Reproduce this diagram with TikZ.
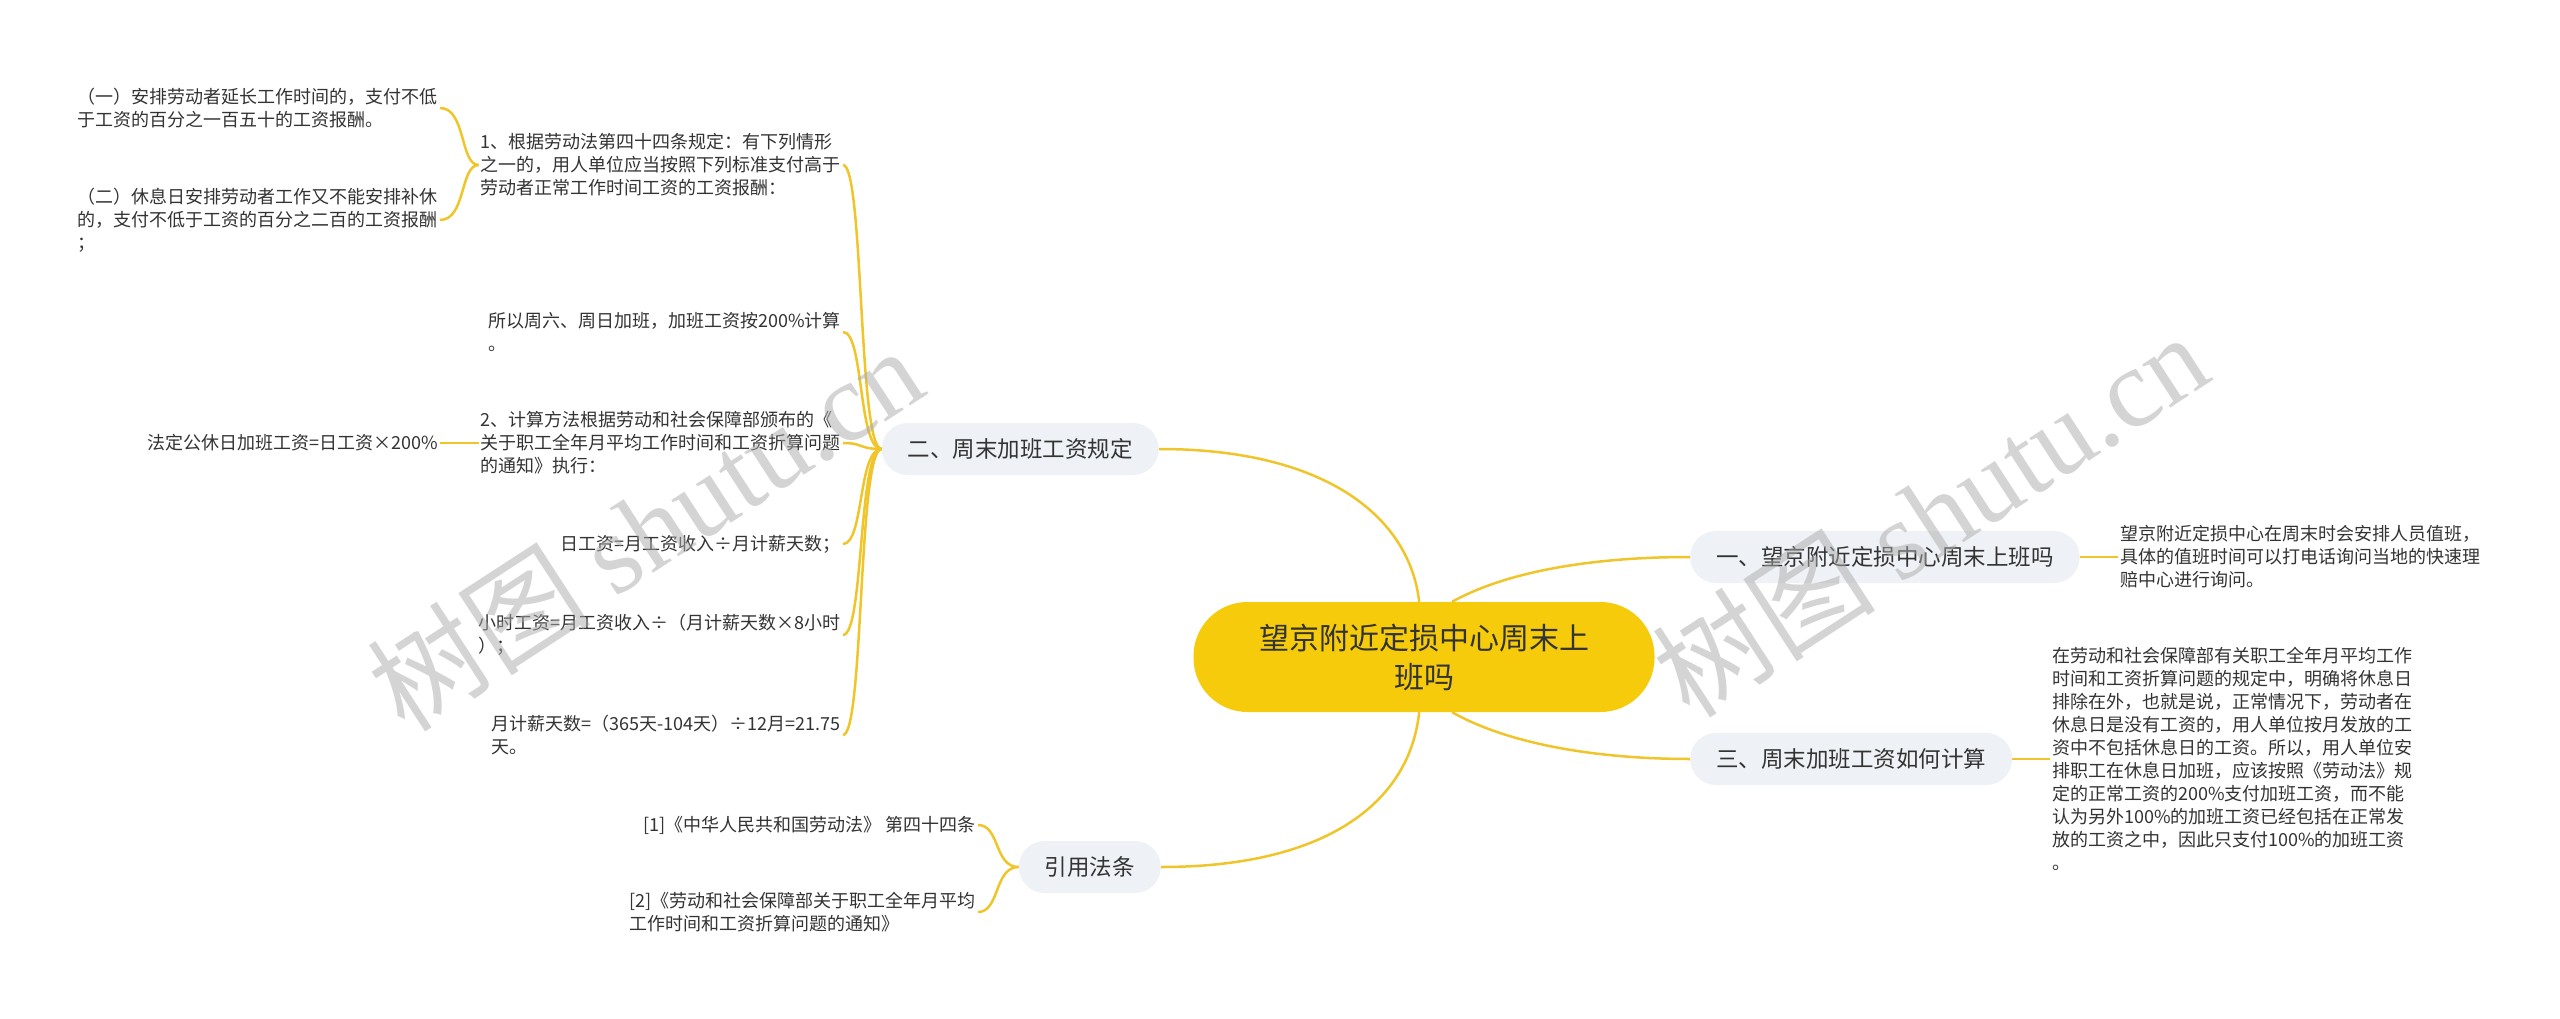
\documentclass[tikz,border=0pt]{standalone}
\usepackage{fontspec}
\setmainfont{Noto Sans CJK SC}
\newfontfamily\markfont{Liberation Serif}
\definecolor{rootyellow}{HTML}{F5CB0C}
\definecolor{topicgray}{HTML}{EEF1F5}
\definecolor{linkyellow}{HTML}{F0C52A}
\definecolor{inkdark}{HTML}{333333}
\definecolor{markgray}{HTML}{AAAAAA}

\begin{document}
\begin{tikzpicture}[x=1pt, y=-1pt,
  root/.style={fill=rootyellow, text=inkdark, rounded corners=54pt, minimum width=461pt,
    minimum height=110pt, align=center, font=\fontsize{30}{39}\selectfont},
  topic/.style={fill=topicgray, text=inkdark, rounded corners=26pt, minimum height=52pt,
    inner xsep=26pt, font=\fontsize{22.5}{28}\selectfont},
  leaf/.style={text=inkdark, align=left, inner sep=2pt, font=\fontsize{18}{23}\selectfont},
  link/.style={draw=linkyellow, line width=2.5pt},
  wmark/.style={text=markgray, opacity=0.5, rotate=33, font=\fontsize{112}{112}\selectfont}
]
  \useasboundingbox (0,0) rectangle (2560,1019);
  \fill[white] (0,0) rectangle (2560,1019);

  % Root and topics
  \node[root] (root) at (1424,657) {望京附近定损中心周末上\\班吗};
  \node[topic, anchor=west] (t1) at (1690,557) {一、望京附近定损中心周末上班吗};
  \node[topic, anchor=east] (t2) at (1159,449) {二、周末加班工资规定};
  \node[topic, anchor=west] (t3) at (1690,759) {三、周末加班工资如何计算};
  \node[topic, anchor=east] (t4) at (1161,867) {引用法条};

  \draw[link] (root.95) .. controls (1410,520) and (1330,449) .. (t2.east);
  \draw[link] (root.-95) .. controls (1410,800) and (1330,867) .. (t4.east);
  \draw[link] (root.63) .. controls (1500,575) and (1580,557) .. (t1.west);
  \draw[link] (root.-63) .. controls (1510,745) and (1600,759) .. (t3.west);

  % Right side details
  \node[leaf, anchor=west] (t1a) at (2118,557) {望京附近定损中心在周末时会安排人员值班，\\具体的值班时间可以打电话询问当地的快速理\\赔中心进行询问。};
  \node[leaf, anchor=west] (t3a) at (2050,759) {在劳动和社会保障部有关职工全年月平均工作\\时间和工资折算问题的规定中，明确将休息日\\排除在外，也就是说，正常情况下，劳动者在\\休息日是没有工资的，用人单位按月发放的工\\资中不包括休息日的工资。所以，用人单位安\\排职工在休息日加班，应该按照《劳动法》规\\定的正常工资的200\%支付加班工资，而不能\\认为另外100\%的加班工资已经包括在正常发\\放的工资之中，因此只支付100\%的加班工资\\。};
  \draw[link] (t1.east) -- (t1a.west);
  \draw[link] (t3.east) -- (t3a.west);

  % Weekend overtime rules
  \node[leaf, anchor=east] (r1) at (843,165) {1、根据劳动法第四十四条规定：有下列情形\\之一的，用人单位应当按照下列标准支付高于\\劳动者正常工作时间工资的工资报酬：};
  \node[leaf, anchor=east] (r2) at (843,332) {所以周六、周日加班，加班工资按200\%计算\\。};
  \node[leaf, anchor=east] (r3) at (843,443) {2、计算方法根据劳动和社会保障部颁布的《\\关于职工全年月平均工作时间和工资折算问题\\的通知》执行：};
  \node[leaf, anchor=east] (r4) at (843,544) {日工资=月工资收入÷月计薪天数；};
  \node[leaf, anchor=east] (r5) at (843,635) {小时工资=月工资收入÷（月计薪天数×8小时\\）；};
  \node[leaf, anchor=east] (r6) at (843,735) {月计薪天数=（365天-104天）÷12月=21.75\\天。};
  \foreach \r/\y in {r1/165, r2/332, r3/443, r4/544, r5/635, r6/735}
    \draw[link] (t2.west) .. controls (858,449) and (864,\y) .. (\r.east);

  \node[leaf, anchor=east] (r1a) at (440,108) {（一）安排劳动者延长工作时间的，支付不低\\于工资的百分之一百五十的工资报酬。};
  \node[leaf, anchor=east] (r1b) at (440,220) {（二）休息日安排劳动者工作又不能安排补休\\的，支付不低于工资的百分之二百的工资报酬\\；};
  \node[leaf, anchor=east] (r3a) at (440,443) {法定公休日加班工资=日工资×200\%};
  \draw[link] (r1.west) .. controls (460,165) and (466,108) .. (r1a.east);
  \draw[link] (r1.west) .. controls (460,165) and (466,220) .. (r1b.east);
  \draw[link] (r3.west) -- (r3a.east);

  % Cited laws
  \node[leaf, anchor=east] (l1) at (978,825) {[1]《中华人民共和国劳动法》 第四十四条};
  \node[leaf, anchor=east] (l2) at (978,912) {[2]《劳动和社会保障部关于职工全年月平均\\工作时间和工资折算问题的通知》};
  \draw[link] (t4.west) .. controls (994,867) and (1000,825) .. (l1.east);
  \draw[link] (t4.west) .. controls (994,867) and (1000,912) .. (l2.east);

  % Watermarks
  \node[wmark] (wm1) at (645,528) {树图 {\markfont shutu.cn}};
  \node[wmark] (wm2) at (1930,514) {树图 {\markfont shutu.cn}};
\end{tikzpicture}
\end{document}
